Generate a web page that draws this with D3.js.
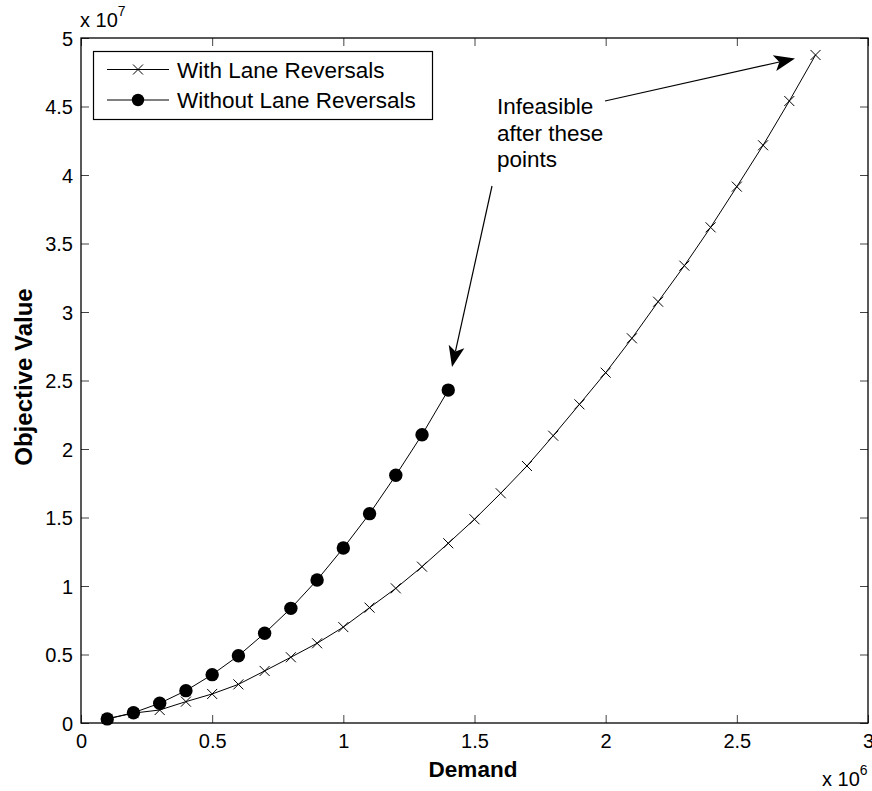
<!DOCTYPE html>
<html>
<head>
<meta charset="utf-8">
<script src="https://cdn.jsdelivr.net/npm/d3@7"></script>
<style>
  html, body { margin: 0; padding: 0; background: #fff; }
  svg { display: block; font-family: "Liberation Sans", Arial, Helvetica, sans-serif; }
</style>
</head>
<body>
<svg id="chart" width="872" height="791"></svg>
<script>
// ---- Data (demand in units of 1e6, objective in units of 1e7) ----
const demandWith = [0.1,0.2,0.3,0.4,0.5,0.6,0.7,0.8,0.9,1.0,1.1,1.2,1.3,1.4,1.5,1.6,1.7,1.8,1.9,2.0,2.1,2.2,2.3,2.4,2.5,2.6,2.7,2.8];
const valuesWith = [0.03,0.072,0.095,0.156,0.212,0.282,0.38,0.48,0.582,0.70,0.842,0.983,1.141,1.312,1.487,1.677,1.876,2.097,2.326,2.557,2.808,3.075,3.338,3.618,3.915,4.217,4.54,4.876];
const demandWithout = [0.1,0.2,0.3,0.4,0.5,0.6,0.7,0.8,0.9,1.0,1.1,1.2,1.3,1.4];
const valuesWithout = [0.03,0.075,0.144,0.236,0.353,0.491,0.655,0.837,1.044,1.277,1.528,1.808,2.104,2.43];
const xTicks = [0,0.5,1,1.5,2,2.5,3];
const yTicks = [0,0.5,1,1.5,2,2.5,3,3.5,4,4.5,5];
const seriesNames = ["With Lane Reversals","Without Lane Reversals"];
const annotationLines = ["Infeasible","after these","points"];

const svg = d3.select("#chart");
const L = 81, R = 868, T = 38, B = 723;
const x = d3.scaleLinear().domain([0,3]).range([L,R]);
const y = d3.scaleLinear().domain([0,5]).range([B,T]);
const tickFont = 20;

// axes
const fmt = d => d3.format("")(d);
const gx = svg.append("g").attr("transform",`translate(0,${B})`)
  .call(d3.axisBottom(x).tickValues(xTicks).tickFormat(fmt).tickSizeInner(-8).tickSizeOuter(0).tickPadding(11));
const gxt = svg.append("g").attr("transform",`translate(0,${T})`)
  .call(d3.axisTop(x).tickValues(xTicks).tickFormat("").tickSizeInner(-8).tickSizeOuter(0));
const gy = svg.append("g").attr("transform",`translate(${L},0)`)
  .call(d3.axisLeft(y).tickValues(yTicks).tickFormat(fmt).tickSizeInner(-8).tickSizeOuter(0).tickPadding(8));
const gyr = svg.append("g").attr("transform",`translate(${R},0)`)
  .call(d3.axisRight(y).tickValues(yTicks).tickFormat("").tickSizeInner(-8).tickSizeOuter(0));
[gx,gxt,gy,gyr].forEach(g => {
  g.select(".domain").remove();
  g.selectAll(".tick line").attr("stroke","#444").attr("stroke-width",1);
  g.selectAll(".tick text").attr("fill","#000").style("font-size",tickFont+"px")
   .style("font-family","Liberation Sans, Arial, sans-serif");
});
gy.selectAll(".tick text").attr("dy","0.35em");

// box
svg.append("rect").attr("x",L).attr("y",T).attr("width",R-L).attr("height",B-T)
  .attr("fill","none").attr("stroke","#000").attr("stroke-width",1.3);

// exponent labels
const e7 = svg.append("text").attr("x",80).attr("y",27).style("font-size","20px");
e7.append("tspan").text("x 10");
e7.append("tspan").attr("dy",-11).style("font-size","14px").text("7");
const e6 = svg.append("text").attr("x",822).attr("y",786).style("font-size","20px");
e6.append("tspan").text("x 10");
e6.append("tspan").attr("dy",-11).style("font-size","14px").text("6");

// axis titles
svg.append("text").attr("x",473).attr("y",777).attr("text-anchor","middle")
  .style("font-size","22.5px").style("font-weight","bold").text("Demand");
svg.append("text").attr("transform",`translate(32,377) rotate(-90)`).attr("text-anchor","middle")
  .style("font-size","24px").style("font-weight","bold").text("Objective Value");

// series
const line = d3.line().x(d => x(d[0])).y(d => y(d[1]));
const withData = demandWith.map((d,i) => [d, valuesWith[i]]);
const withoutData = demandWithout.map((d,i) => [d, valuesWithout[i]]);

svg.append("path").datum(withData).attr("d",line).attr("fill","none").attr("stroke","#000").attr("stroke-width",1);
svg.append("path").datum(withoutData).attr("d",line).attr("fill","none").attr("stroke","#000").attr("stroke-width",1);

const xs = 5;
function xMark(g, cx, cy) {
  g.append("path").attr("d",`M${cx-xs},${cy-xs}L${cx+xs},${cy+xs}M${cx-xs},${cy+xs}L${cx+xs},${cy-xs}`)
   .attr("stroke","#000").attr("stroke-width",1).attr("fill","none");
}
const gm = svg.append("g");
withData.forEach(d => xMark(gm, x(d[0]), y(d[1])));
svg.append("g").selectAll("circle").data(withoutData).join("circle")
  .attr("cx", d => x(d[0])).attr("cy", d => y(d[1])).attr("r",6.7).attr("fill","#000");

// legend
const lg = svg.append("g");
lg.append("rect").attr("x",93.5).attr("y",51.5).attr("width",339).attr("height",68)
  .attr("fill","#fff").attr("stroke","#000").attr("stroke-width",1.2);
const rows = [69.5, 100];
rows.forEach((ry,i) => {
  lg.append("line").attr("x1",107).attr("x2",169).attr("y1",ry).attr("y2",ry).attr("stroke","#000").attr("stroke-width",1);
  if (i === 0) xMark(lg, 138, ry);
  else lg.append("circle").attr("cx",138).attr("cy",ry).attr("r",6.2).attr("fill","#000");
  lg.append("text").attr("x",177).attr("y",ry).attr("dy","0.36em").style("font-size","22.5px").text(seriesNames[i]);
});

// annotation text
const at = svg.append("text").attr("x",497).attr("y",114).style("font-size","22.5px");
annotationLines.forEach((t,i) => at.append("tspan").attr("x",497).attr("y",114 + i*26.5).text(t));

// arrows
function arrow(x1,y1,x2,y2){
  const ang = Math.atan2(y2-y1, x2-x1);
  const len = 21, w = 8, back = 5;
  const ux = Math.cos(ang), uy = Math.sin(ang);
  const px = -uy, py = ux;
  const bx = x2 - ux*len, by = y2 - uy*len;
  const nx = x2 - ux*(len-back), ny = y2 - uy*(len-back);
  svg.append("line").attr("x1",x1).attr("y1",y1).attr("x2",nx).attr("y2",ny).attr("stroke","#000").attr("stroke-width",1.2);
  svg.append("path").attr("d",`M${x2},${y2}L${bx+px*w},${by+py*w}L${nx},${ny}L${bx-px*w},${by-py*w}Z`).attr("fill","#000");
}
arrow(605,101, 795,58.5);
arrow(492,186, 452,367);
</script>
</body>
</html>
